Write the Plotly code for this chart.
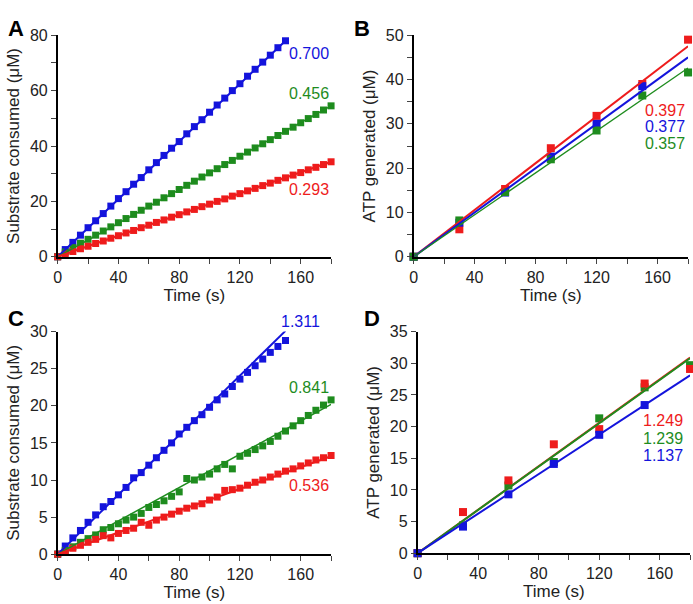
import plotly.graph_objects as go

BLUE = '#1414dc'
GREEN = '#1e8c1e'
RED = '#ee1c1c'
FONT = 'Liberation Sans, Arial, sans-serif'

# time grids (s)
T_150 = [0, 5, 10, 15, 20, 25, 30, 35, 40, 45, 50, 55, 60, 65, 70, 75, 80, 85, 90, 95, 100,
         105, 110, 115, 120, 125, 130, 135, 140, 145, 150]
T_180 = T_150 + [155, 160, 165, 170, 175, 180]
T_STEP = [0, 30, 60, 90, 120, 150, 180]

# Panel A - substrate consumed (uM)
A_BLUE = [0, 2.6, 5.2, 7.8, 10.5, 13.0, 15.6, 18.3, 21.0, 23.5, 26.2, 28.6, 31.4, 34.0, 36.6,
          39.2, 41.6, 44.4, 47.0, 49.5, 52.2, 54.8, 57.3, 60.0, 62.5, 65.2, 67.7, 70.3, 72.8,
          75.5, 78.0]
A_GREEN = [0, 1.7, 3.3, 4.9, 6.3, 7.8, 9.3, 10.8, 12.3, 13.8, 15.3, 16.8, 18.3, 19.7, 21.3,
           22.8, 24.3, 25.8, 27.3, 28.8, 30.3, 31.8, 33.3, 34.8, 36.3, 37.8, 39.3, 40.8, 42.3,
           43.8, 45.3, 46.8, 48.4, 49.9, 51.4, 53.0, 54.5]
A_RED = [0, 1.0, 1.9, 2.9, 3.8, 4.8, 5.7, 6.7, 7.6, 8.6, 9.5, 10.5, 11.4, 12.4, 13.3, 14.3,
         15.2, 16.2, 17.1, 18.1, 19.0, 20.0, 20.9, 21.9, 22.8, 23.8, 24.7, 25.7, 26.6, 27.6,
         28.5, 29.5, 30.4, 31.4, 32.3, 33.3, 34.3]
A_FIT_END = {'blue': (150, 78.0), 'green': (180, 54.5), 'red': (180, 34.3)}
A_RATES = ['0.700', '0.456', '0.293']

# Panel B - ATP generated (uM)
B_RED = [0, 6.2, 15.3, 24.5, 31.8, 39.0, 49.0]
B_BLUE = [0, 7.7, 14.5, 22.6, 30.0, 38.5]
B_GREEN = [0, 8.2, 14.6, 22.0, 28.5, 36.4, 41.6]
B_FIT_END = {'red': (180, 47.5), 'blue': (180, 45.0), 'green': (180, 42.6)}
B_RATES = ['0.397', '0.377', '0.357']

# Panel C - substrate consumed (uM)
C_BLUE = [0, 1.1, 2.2, 3.2, 4.3, 5.3, 6.4, 7.1, 8.0, 9.0, 10.3, 11.0, 12.0, 13.0, 14.0, 15.0,
          16.2, 17.1, 18.0, 18.8, 19.8, 20.8, 21.6, 22.6, 23.6, 24.5, 25.4, 26.3, 27.2, 28.0,
          28.8]
C_GREEN = [0, 0.5, 1.0, 1.6, 2.1, 2.6, 3.3, 3.6, 4.1, 4.6, 5.0, 5.5, 6.3, 6.7, 7.2, 7.8, 8.4,
           10.2, 10.0, 10.4, 10.8, 11.5, 12.1, 11.5, 13.2, 13.6, 14.1, 14.6, 15.2, 15.9, 16.6,
           17.3, 18.0, 18.7, 19.4, 20.1, 20.8]
C_RED = [0, 0.3, 0.8, 1.2, 1.6, 2.0, 2.5, 2.2, 2.8, 3.2, 3.5, 4.3, 3.9, 4.6, 5.0, 5.4, 5.8,
         6.2, 6.5, 6.8, 7.3, 7.7, 8.6, 8.7, 8.9, 9.3, 9.7, 10.0, 10.4, 10.8, 11.2, 11.5, 11.9,
         12.3, 12.7, 13.0, 13.3]
C_FIT_END = {'blue': (150, 30.1), 'green': (180, 20.2), 'red': (180, 13.2)}
C_RATES = ['1.311', '0.841', '0.536']

# Panel D - ATP generated (uM)
D_RED = [0, 6.5, 11.5, 17.2, 19.6, 26.8, 29.1]
D_GREEN = [0, 4.4, 10.7, 14.4, 21.3, 26.2, 29.7]
D_BLUE = [0, 4.2, 9.3, 14.1, 18.7, 23.4]
D_FIT_END = {'red': (180, 30.9), 'green': (180, 30.8), 'blue': (180, 28.1)}
D_RATES = ['1.249', '1.239', '1.137']

COLOR = {'blue': BLUE, 'green': GREEN, 'red': RED}


def axis_ids(ax):
    if ax == 1:
        return 'x', 'y'
    return 'x%d' % ax, 'y%d' % ax


def add_panel(fig, ax, series, fits, msize, fit_widths):
    xa, ya = axis_ids(ax)
    for name, (tx, vy) in series.items():
        fig.add_trace(go.Scatter(x=tx, y=vy, mode='markers', xaxis=xa, yaxis=ya,
                                 marker=dict(symbol='square', size=msize, color=COLOR[name]),
                                 cliponaxis=False, showlegend=False))
    for name, (xe, ye) in fits.items():
        fig.add_trace(go.Scatter(x=[0, xe], y=[0, ye], mode='lines', xaxis=xa, yaxis=ya,
                                 line=dict(color=COLOR[name], width=fit_widths[name]),
                                 cliponaxis=False, showlegend=False))


fig = go.Figure()
add_panel(fig, 1, {'blue': (T_150, A_BLUE), 'green': (T_180, A_GREEN), 'red': (T_180, A_RED)},
          A_FIT_END, 7, {'blue': 2, 'green': 1.5, 'red': 2})
add_panel(fig, 2, {'red': (T_STEP, B_RED), 'blue': (T_STEP[:6], B_BLUE), 'green': (T_STEP, B_GREEN)},
          B_FIT_END, 8, {'red': 2, 'blue': 2, 'green': 1.3})
add_panel(fig, 3, {'blue': (T_150, C_BLUE), 'green': (T_180, C_GREEN), 'red': (T_180, C_RED)},
          C_FIT_END, 7, {'blue': 2, 'green': 1.5, 'red': 2})
add_panel(fig, 4, {'green': (T_STEP, D_GREEN), 'red': (T_STEP, D_RED), 'blue': (T_STEP[:6], D_BLUE)},
          D_FIT_END, 8, {'green': 2, 'red': 2, 'blue': 2})


def xaxis(domain, anchor):
    return dict(domain=domain, anchor=anchor, range=[0, 180], tickvals=[0, 40, 80, 120, 160],
                ticks='outside', ticklen=5, tickwidth=1.3, showline=True, linecolor='black',
                linewidth=1.5, showgrid=False, zeroline=False,
                minor=dict(ticks='outside', dtick=20, ticklen=5, tickwidth=1.3, showgrid=False),
                tickfont=dict(size=16, color='#222'),
                title=dict(text='Time (s)', font=dict(size=17, color='#222'), standoff=0))


def yaxis(domain, anchor, rng, dtick, minor, title):
    ax = dict(domain=domain, anchor=anchor, range=rng, dtick=dtick, tick0=0,
              ticks='outside', ticklen=5, tickwidth=1.3, showline=True, linecolor='black',
              linewidth=1.5, showgrid=False, zeroline=False,
              tickfont=dict(size=16, color='#222'),
              title=dict(text=title, font=dict(size=17, color='#222'), standoff=6))
    if minor:
        ax['minor'] = dict(ticks='outside', dtick=minor, ticklen=5, tickwidth=1.3, showgrid=False)
    return ax


SUB = 'Substrate consumed (\u03bcM)'
ATP = 'ATP generated (\u03bcM)'

annotations = []
for txt, xp, yp in [('A', 0.003, 0.99), ('B', 0.505, 0.99), ('C', 0.003, 0.495), ('D', 0.52, 0.495)]:
    annotations.append(dict(text='<b>%s</b>' % txt, xref='paper', yref='paper', x=xp, y=yp,
                            xanchor='left', yanchor='top', showarrow=False,
                            font=dict(size=22, color='black')))


def rate_labels(ax, rates, colors, xs, ys):
    xa, ya = axis_ids(ax)
    for r, c, xv, yv in zip(rates, colors, xs, ys):
        annotations.append(dict(text=r, xref=xa, yref=ya + ' domain', x=xv, y=yv, xanchor='right',
                                yanchor='middle', showarrow=False, font=dict(size=16, color=c)))


# y positions given as fractions of each panel's height
rate_labels(1, A_RATES, [BLUE, GREEN, RED], [180, 180, 180], [0.917, 0.737, 0.303])
rate_labels(2, B_RATES, [RED, BLUE, GREEN], [179, 179, 179], [0.662, 0.586, 0.510])
rate_labels(3, C_RATES, [BLUE, GREEN, RED], [174, 180, 180], [1.044, 0.75, 0.31])
rate_labels(4, D_RATES, [RED, GREEN, BLUE], [177, 177, 177], [0.597, 0.519, 0.441])

fig.update_layout(
    width=693, height=604,
    margin=dict(l=0, r=0, t=0, b=0),
    paper_bgcolor='white', plot_bgcolor='white',
    font=dict(family=FONT, color='#222'),
    showlegend=False,
    xaxis=xaxis([0.0779, 0.4747], 'y'),
    yaxis=yaxis([0.5762, 0.9536], 'x', [0, 80], 20, 10, SUB),
    xaxis2=xaxis([0.5945, 0.9928], 'y2'),
    yaxis2=yaxis([0.5762, 0.9536], 'x2', [0, 50], 10, 5, ATP),
    xaxis3=xaxis([0.0779, 0.4747], 'y3'),
    yaxis3=yaxis([0.0695, 0.4487], 'x3', [0, 30], 5, None, SUB),
    xaxis4=xaxis([0.6003, 0.9957], 'y4'),
    yaxis4=yaxis([0.0712, 0.4487], 'x4', [0, 35], 5, None, ATP),
    annotations=annotations,
)

fig.write_html('out.html', config={'displayModeBar': False},
               post_script="document.body.style.margin='0';")
